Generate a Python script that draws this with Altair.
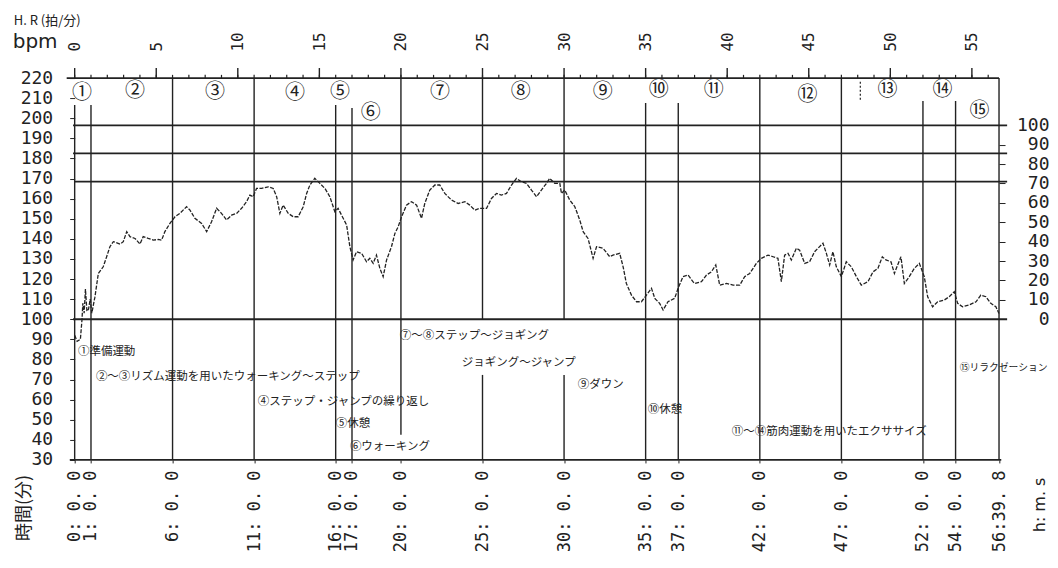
import altair as alt
import pandas as pd

# ---------------- data ----------------
time_min = [0.00, 0.15, 0.35, 0.45, 0.50, 0.58, 0.66, 0.75, 0.85, 0.95, 1.05, 1.24, 1.45, 1.75, 1.96,
            2.16, 2.37, 2.78, 2.98, 3.19, 3.39, 3.70, 4.00, 4.20, 4.51, 4.82, 5.12, 5.33, 5.53, 5.84,
            6.15, 6.45, 6.86, 7.07, 7.37, 7.78, 8.09, 8.39, 8.70, 9.00, 9.31, 9.62, 9.93, 10.23, 10.54,
            10.74, 10.94, 11.15, 11.46, 11.86, 12.17, 12.38, 12.58, 12.78, 13.09, 13.40, 13.70, 14.01,
            14.22, 14.42, 14.72, 15.03, 15.34, 15.64, 15.95, 16.15, 16.36, 16.67, 16.87, 17.07, 17.28,
            17.59, 17.89, 18.09, 18.30, 18.50, 18.71, 18.91, 19.12, 19.42, 19.63, 19.83, 20.04, 20.34,
            20.65, 20.96, 21.26, 21.46, 21.77, 22.08, 22.38, 22.69, 23.10, 23.51, 23.92, 24.22, 24.53,
            24.83, 25.25, 25.55, 25.86, 26.16, 26.47, 26.78, 27.08, 27.39, 27.70, 28.00, 28.31, 28.61,
            28.92, 29.12, 29.43, 29.74, 29.84, 30.04, 30.35, 30.66, 30.96, 31.17, 31.47, 31.78, 31.99,
            32.39, 32.80, 33.00, 33.41, 33.62, 33.82, 34.13, 34.44, 34.74, 35.05, 35.36, 35.56, 35.86,
            36.07, 36.37, 36.78, 36.99, 37.29, 37.60, 37.90, 38.01, 38.42, 38.73, 39.03, 39.30, 39.54,
            39.95, 40.36, 40.77, 41.07, 41.38, 41.79, 42.10, 42.50, 42.81, 43.11, 43.32, 43.52, 43.73,
            43.93, 44.24, 44.44, 44.75, 45.05, 45.36, 45.56, 45.87, 46.08, 46.28, 46.48, 46.69, 47.00,
            47.30, 47.61, 47.92, 48.22, 48.63, 48.94, 49.24, 49.51, 49.73, 50.04, 50.25, 50.45, 50.65,
            50.86, 51.16, 51.47, 51.78, 52.08, 52.29, 52.59, 52.90, 53.31, 53.61, 53.92, 54.13, 54.43,
            54.84, 55.25, 55.55, 55.86, 56.16, 56.47, 56.66]
hr_bpm = [92, 89, 90, 100, 108, 103, 115, 104, 105, 110, 103, 111, 122.8, 126.1, 131.1,
          136.1, 138.6, 137.4, 138.6, 143.6, 141.1, 140.2, 137.4, 141.1, 140.2, 139.4, 139.7, 139.4, 143.6, 147.7,
          151.0, 152.7, 156.0, 154.3, 150.2, 147.7, 143.6, 148.5, 155.2, 152.7, 149.4, 151.8, 152.7, 155.2, 158.5,
          161.8, 161.0, 165.1, 165.1, 165.9, 165.1, 161.0, 152.7, 156.8, 152.7, 151.0, 151.0, 156.0,
          162.6, 166.8, 170.1, 167.6, 165.1, 161.0, 153.5, 155.2, 151.8, 146.9, 136.1, 129.5, 133.6,
          132.8, 128.6, 130.3, 127.8, 131.9, 125.3, 121.2, 129.5, 136.1, 142.7, 146.0, 151.0, 156.8,
          158.5, 156.8, 150.2, 157.6, 164.3, 166.8, 166.8, 162.6, 159.3, 157.6, 158.5, 156.8, 154.3,
          155.2, 155.2, 160.1, 162.6, 161.8, 162.6, 166.8, 170.1, 168.4, 167.6, 164.3, 161.0, 164.3,
          167.6, 170.1, 167.6, 167.6, 162.6, 164.3, 159.3, 156.0, 149.4, 143.6, 140.2, 130.3, 136.1,
          135.3, 131.1, 131.9, 132.8, 126.1, 117.8, 112.0, 108.7, 108.7, 112.0, 115.4, 110.4, 107.9,
          104.6, 108.7, 110.4, 115.4, 121.2, 122.0, 118.7, 117.8, 118.7, 122.0, 123.6, 127.0, 117.0,
          117.8, 117.0, 117.0, 121.2, 122.8, 127.8, 130.3, 131.9, 131.1, 130.3, 118.7, 131.9, 132.8,
          129.5, 135.3, 134.4, 127.8, 128.6, 133.6, 135.3, 137.8, 132.8, 127.0, 133.6, 126.1, 121.2,
          128.6, 126.1, 121.2, 117.0, 118.7, 123.6, 125.3, 131.1, 129.5, 128.6, 122.8, 127.0, 131.1,
          117.8, 121.2, 125.3, 127.8, 121.2, 111.2, 106.2, 108.7, 109.6, 111.2, 113.7, 107.9, 106.2,
          107.1, 108.7, 112.0, 111.2, 107.9, 106.2, 102.9]

T_END = 56.663  # 56:39.8
boundary_min = [0, 1, 6, 11, 16, 17, 20, 25, 30, 35, 37, 42, 47, 52, 54, T_END]
boundary_labels = ["0: 0. 0", "1: 0. 0", "6: 0. 0", "11: 0. 0", "16: 0. 0", "17: 0. 0",
                   "20: 0. 0", "25: 0. 0", "30: 0. 0", "35: 0. 0", "37: 0. 0", "42: 0. 0",
                   "47: 0. 0", "52: 0. 0", "54: 0. 0", "56:39. 8"]
minute_labels = list(range(0, 56, 5))
minute_ticks = list(range(0, 57))
bpm_ticks = list(range(30, 221, 10))
pct_ticks = list(range(0, 101, 10))
zone_pct = [100, 85.5, 71, 0]
BPM_AT_0PCT = 100
BPM_AT_100PCT = 196.5

segment_marks = ["①", "②", "③", "④", "⑤", "⑥", "⑦", "⑧", "⑨", "⑩", "⑪", "⑫", "⑬", "⑭", "⑮"]
notes = ["①準備運動", "②～③リズム運動を用いたウォーキング～ステップ", "④ステップ・ジャンプの繰り返し",
         "⑤休憩", "⑥ウォーキング", "⑦～⑧ステップ～ジョギング", "ジョギング～ジャンプ", "⑨ダウン",
         "⑩休憩", "⑪～⑭筋肉運動を用いたエクササイズ", "⑮リラクゼーション"]

# ---------------- placement (layout, not values) ----------------
segment_pos_t = [0.45, 3.7, 8.6, 13.5, 16.26, 18.15, 22.39, 27.35, 32.37, 35.8, 39.17, 44.93, 49.83, 53.2, 55.47]
segment_pos_y = [212.5, 213.5, 213, 212.5, 213, 202.6, 213, 213, 213, 214, 214, 211.5, 214, 214, 203.6]
note_pos_t = [0.2, 1.3, 11.23, 16.0, 16.87, 19.93, 23.73, 30.84, 35.13, 40.28, 54.25]
note_pos_y = [83.7, 71.3, 58.8, 47.9, 36.5, 91.7, 78.2, 67.3, 54.9, 43.9, 75.8]
note_size = [11.5, 11.5, 11.5, 11.5, 11.5, 11.5, 11.5, 11.5, 11.5, 11.5, 9.8]

vline_t = [0, 1, 6, 11, 16, 17, 20, 25, 25, 30, 30, 35, 37, 42, 47, 52, 54, T_END]
vline_top = [206.6, 206.6, 220, 220, 206.6, 205.1, 220, 220, 72.3, 220, 72.3, 207.6, 207.6, 220, 220, 208.6, 208.6, 220]
vline_bot = [30, 30, 30, 30, 30, 30, 42.5, 100, 30, 100, 30, 30, 30, 30, 30, 30, 30, 30]

hline_bpm = [220, 30]
hline_x0 = [-0.49, -0.3]
hline_x1 = [T_END, 56.8]
zone_x0 = [-0.1, -0.1, 0, -0.1]
zone_x1 = [57.16, 57.16, 57.16, 57.16]

# ---------------- chart ----------------
INK = "#222222"
MONO = "DejaVu Sans Mono"
JP = "Noto Sans CJK JP"
W, H = 924.7, 382
Y_DOM = [30, 220]
pct_dom = [(Y_DOM[0] - BPM_AT_0PCT) / (BPM_AT_100PCT - BPM_AT_0PCT) * 100,
           (Y_DOM[1] - BPM_AT_0PCT) / (BPM_AT_100PCT - BPM_AT_0PCT) * 100]

xs = alt.Scale(domain=[0, T_END], nice=False, zero=False)
ys = alt.Scale(domain=Y_DOM, nice=False, zero=False)
ps = alt.Scale(domain=pct_dom, nice=False, zero=False)

hr_df = pd.DataFrame({"t": time_min, "bpm": hr_bpm})
vl_df = pd.DataFrame({"t": vline_t, "top": vline_top, "bot": vline_bot})
hl_df = pd.DataFrame({"y": hline_bpm, "x0": hline_x0, "x1": hline_x1})
zn_df = pd.DataFrame({"p": zone_pct, "x0": zone_x0, "x1": zone_x1})
mt_df = pd.DataFrame({"t": minute_ticks, "y0": [220] * len(minute_ticks), "y1": [221.6] * len(minute_ticks)})
mj_df = pd.DataFrame({"t": minute_labels, "y0": [220] * len(minute_labels), "y1": [225] * len(minute_labels)})
sg_df = pd.DataFrame({"t": segment_pos_t, "y": segment_pos_y, "s": segment_marks})
nt_df = pd.DataFrame({"t": note_pos_t, "y": note_pos_y, "s": notes, "fs": note_size})

label_expr = ("[" + ",".join("'" + s + "'" for s in boundary_labels) + "][indexof(["
              + ",".join(str(v) for v in boundary_min) + "], datum.value)]")

bottom_axis = alt.Axis(orient="bottom", values=boundary_min, labelExpr=label_expr, labelAngle=270,
                       tickSize=3, tickColor=INK, domain=False, grid=False, labelFont=MONO,
                       labelFontSize=17, labelColor=INK, labelPadding=7, labelOverlap=False,
                       labelFlush=False, title=None)
top_axis = alt.Axis(orient="top", values=minute_labels, labelAngle=270, ticks=False,
                    domain=False, grid=False, labelFont=MONO, labelFontSize=16, labelColor=INK,
                    labelPadding=27, labelOverlap=False, labelFlush=False, title=None)
left_axis = alt.Axis(orient="left", values=bpm_ticks, tickSize=5, tickColor=INK, domain=False,
                     grid=False, labelFont=MONO, labelFontSize=18, labelColor=INK, labelPadding=17,
                     labelOverlap=False, title=None)
right_axis = alt.Axis(orient="right", values=pct_ticks, tickSize=6, tickColor=INK, domain=False,
                      grid=False, labelFont=MONO, labelFontSize=18, labelColor=INK, labelAlign="right",
                      labelPadding=44, labelOverlap=False, title=None)

vlines = alt.Chart(vl_df).mark_rule(color=INK, strokeWidth=1.4).encode(
    x=alt.X("t:Q", scale=xs, axis=bottom_axis),
    y=alt.Y("top:Q", scale=ys, axis=None),
    y2="bot:Q",
)

hlines = alt.Chart(hl_df).mark_rule(color=INK, strokeWidth=1.8).encode(
    x=alt.X("x0:Q", scale=xs, axis=None), x2="x1:Q",
    y=alt.Y("y:Q", scale=ys, axis=None),
)

zones = alt.Chart(zn_df).mark_rule(color=INK, strokeWidth=1.8).encode(
    x=alt.X("x0:Q", scale=xs, axis=None), x2="x1:Q",
    y=alt.Y("p:Q", scale=ps, axis=right_axis),
)

minor = alt.Chart(mt_df).mark_rule(color=INK, strokeWidth=1.2).encode(
    x=alt.X("t:Q", scale=xs, axis=None),
    y=alt.Y("y0:Q", scale=ys, axis=None), y2="y1:Q",
)
major = alt.Chart(mj_df).mark_rule(color=INK, strokeWidth=1.4).encode(
    x=alt.X("t:Q", scale=xs, axis=None),
    y=alt.Y("y0:Q", scale=ys, axis=None), y2="y1:Q",
)

dash13 = alt.Chart(pd.DataFrame({"t": [48.16], "a": [218.2], "b": [209]})).mark_rule(
    color=INK, strokeWidth=1.2, strokeDash=[2, 2]).encode(
    x=alt.X("t:Q", scale=xs, axis=None),
    y=alt.Y("a:Q", scale=ys, axis=None), y2="b:Q",
)

hr = alt.Chart(hr_df).mark_line(color=INK, strokeWidth=1.3, strokeDash=[4, 1.5]).encode(
    x=alt.X("t:Q", scale=xs, axis=top_axis),
    y=alt.Y("bpm:Q", scale=ys, axis=left_axis),
)

segs = alt.Chart(sg_df).mark_text(font=JP, fontSize=20, color=INK, align="center",
                                  baseline="middle").encode(
    x=alt.X("t:Q", scale=xs, axis=None),
    y=alt.Y("y:Q", scale=ys, axis=None),
    text="s:N",
)

nts = alt.Chart(nt_df).mark_text(font=JP, color=INK, align="left",
                                 baseline="middle").encode(
    x=alt.X("t:Q", scale=xs, axis=None),
    y=alt.Y("y:Q", scale=ys, axis=None),
    text="s:N",
    size=alt.Size("fs:Q", scale=None, legend=None),
)

def outer(txt, x, y, size, font, angle=0, align="left"):
    return alt.Chart(pd.DataFrame({"s": [txt]})).mark_text(
        font=font, fontSize=size, color=INK, align=align, baseline="middle", angle=angle
    ).encode(x=alt.value(x), y=alt.value(y), text="s:N")

t1 = outer("H. R (拍/分)", -61, -57, 13, JP)
t2 = outer("bpm", -62, -36, 20, "DejaVu Sans")
t3 = outer("時間(分)", -50, 430, 18, JP, angle=270, align="center")
t4 = outer("h: m. s", 966, 427, 16, "DejaVu Sans", angle=270, align="center")

chart = alt.layer(
    hlines, zones, vlines, minor, major, dash13, hr, segs, nts, t1, t2, t3, t4
).resolve_scale(y="independent").resolve_axis(x="independent", y="independent").properties(
    width=W, height=H,
    autosize=alt.AutoSizeParams(type="none"),
    padding={"left": 66.7, "top": 70, "right": 51, "bottom": 96},
    background="white",
).configure_view(stroke=None)

chart.save("out.html", embed_options={"renderer": "svg", "actions": False})
